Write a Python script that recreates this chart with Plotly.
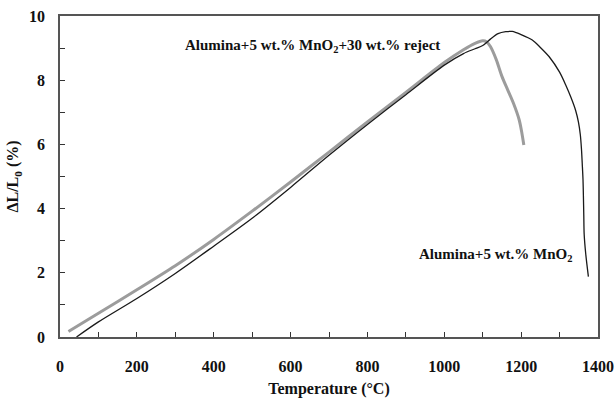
import plotly.graph_objects as go

# Gray curve: Alumina+5 wt.% MnO2+30 wt.% reject
gray_T = [22, 100, 200, 300, 400, 500, 600, 700, 800, 900, 1000, 1050, 1080, 1100,
          1110, 1120, 1135, 1150, 1165, 1180, 1195, 1202, 1207]
gray_v = [0.17, 0.74, 1.47, 2.22, 3.04, 3.92, 4.83, 5.76, 6.7, 7.62, 8.55, 8.95, 9.15, 9.23,
          9.2, 9.05, 8.65, 8.12, 7.7, 7.28, 6.76, 6.35, 5.98]

# Black curve: Alumina+5 wt.% MnO2
black_T = [43, 100, 200, 300, 400, 500, 600, 700, 800, 900, 1000, 1050, 1080, 1100,
           1120, 1140, 1160, 1177, 1200, 1229, 1250, 1273, 1300, 1316, 1330, 1342,
           1349, 1354, 1357, 1359, 1361, 1362, 1363, 1364, 1368, 1375]
black_v = [0.0, 0.47, 1.2, 1.98, 2.83, 3.7, 4.66, 5.66, 6.62, 7.55, 8.47, 8.83, 8.98, 9.08,
           9.28, 9.45, 9.51, 9.52, 9.42, 9.25, 9.02, 8.73, 8.25, 7.85, 7.45, 7.05,
           6.7, 6.3, 5.85, 5.4, 4.9, 4.4, 3.8, 3.2, 2.6, 1.88]

x_ticks = [0, 200, 400, 600, 800, 1000, 1200, 1400]
y_ticks = [0, 2, 4, 6, 8, 10]

label_reject = "Alumina+5 wt.% MnO<sub>2</sub>+30 wt.% reject"
label_base = "Alumina+5 wt.% MnO<sub>2</sub>"

FONT = "Liberation Serif"

fig = go.Figure()
fig.add_trace(go.Scatter(x=gray_T, y=gray_v, mode="lines",
                         line=dict(color="#9c9c9c", width=3, shape="spline", smoothing=0.8),
                         showlegend=False))
fig.add_trace(go.Scatter(x=black_T, y=black_v, mode="lines",
                         line=dict(color="#1a1a1a", width=1.3, shape="spline", smoothing=0.8),
                         showlegend=False))

fig.add_annotation(x=319, y=9.07, xref="x", yref="y", text=label_reject, showarrow=False,
                   xanchor="left", yanchor="middle",
                   font=dict(family=FONT, size=15, color="#111", weight="bold"))
fig.add_annotation(x=1338, y=2.55, xref="x", yref="y", text=label_base, showarrow=False,
                   xanchor="right", yanchor="middle",
                   font=dict(family=FONT, size=15, color="#111", weight="bold"))

axis_common = dict(showgrid=False, zeroline=False, showline=True, linecolor="#555555",
                   linewidth=1.5, mirror=True, ticks="inside", ticklen=5, tickwidth=1,
                   tickcolor="#333333", automargin=False,
                   tickfont=dict(family=FONT, size=16, color="#111", weight="bold"))

fig.update_xaxes(range=[0, 1400], tickvals=x_ticks, ticklabelstandoff=14,
                 minor=dict(ticks="inside", dtick=100, ticklen=5, tickcolor="#333333"),
                 title=dict(text="Temperature (°C)", standoff=14,
                            font=dict(family=FONT, size=16, color="#111", weight="bold")),
                 **axis_common)
fig.update_yaxes(range=[0, 10], tickvals=y_ticks, ticklabelstandoff=10,
                 minor=dict(ticks="inside", dtick=1, ticklen=5, tickcolor="#333333"),
                 title=dict(text="ΔL/L<sub>0</sub> (%)", standoff=6,
                            font=dict(family=FONT, size=16, color="#111", weight="bold")),
                 **axis_common)

fig.update_layout(width=615, height=398, margin=dict(l=60, r=17, t=16, b=61),
                  paper_bgcolor="white", plot_bgcolor="white")

fig.write_html("out.html")
